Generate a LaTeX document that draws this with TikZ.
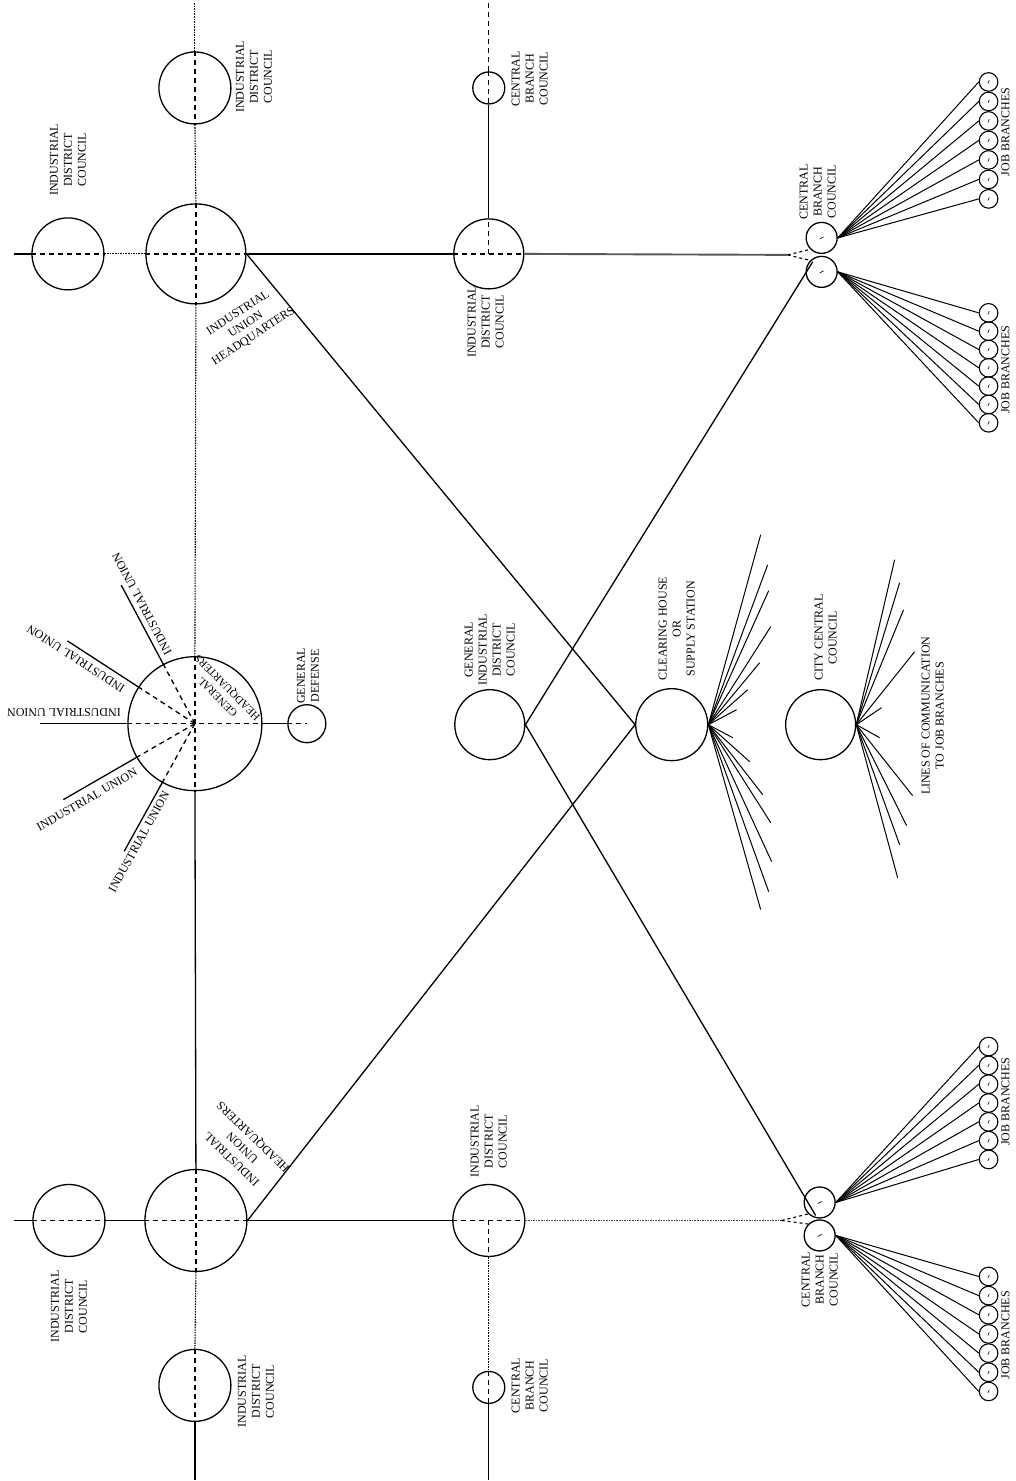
\documentclass[tikz,border=0pt]{standalone}
\usepackage{fontspec}
\setmainfont{Liberation Serif}
\usetikzlibrary{calc}
\begin{document}
\begin{tikzpicture}[x=1pt,y=-1pt,line width=1.3pt,
  circ/.style={circle,draw,inner sep=0pt,minimum size=#1pt},
  jb/.style={circle,draw,inner sep=0pt,minimum size=18.6pt,line width=1.1pt},
  dsh/.style={dash pattern=on 5pt off 4pt},
  fork/.style={dash pattern=on 3pt off 3pt,line width=1.1pt},
  dotl/.style={dash pattern=on 1.6pt off 1pt,line width=1.1pt},
  grayl/.style={line width=1.9pt,color=black!65},
  thin/.style={line width=1pt},
  lab/.style={font=\fontsize{12}{14}\selectfont,align=center,inner sep=0pt},
  tick/.style={line width=0.6pt}]
\path[fill=white] (0,0) rectangle (1016,1481);

% ---------------- circles ----------------
\node[circ=72]  (idcTa) at (195,88) {};
\node[circ=72]  (idcTl) at (68,254) {};
\node[circ=100] (iuhT)  at (196,254) {};
\node[circ=32]  (cbcT)  at (489,88) {};
\node[circ=70]  (idcTm) at (489,254) {};

\node[circ=134] (ghq)  at (195,724) {};
\node[circ=38]  (gd)   at (307,724) {};
\node[circ=70]  (gidc) at (490,725) {};
\node[circ=72]  (chs)  at (672,725) {};
\node[circ=70]  (ccc)  at (821,725) {};

\node[circ=72]  (idcBl) at (69,1221) {};
\node[circ=102] (iuhB)  at (196,1221) {};
\node[circ=72]  (idcBa) at (195,1386) {};
\node[circ=72]  (idcBm) at (489,1221) {};
\node[circ=32]  (cbcB)  at (489,1388) {};

\node[circ=31] (cbcTa) at (822,238) {};
\node[circ=31] (cbcTb) at (822,272) {};
\node[circ=31] (cbcBa) at (820,1203) {};
\node[circ=31] (cbcBb) at (820,1236) {};

% free ends
\coordinate (topL)  at (195,3);
\coordinate (botL)  at (195,1481);
\coordinate (topM)  at (489,3);
\coordinate (botM)  at (489,1481);
\coordinate (leftT) at (14,254);
\coordinate (leftB) at (14,1221);
\coordinate (forkT) at (788,255);
\coordinate (forkB) at (782,1221);
\coordinate (endT)  at (813,262);
\coordinate (endB)  at (816,1216);

% ---------------- left column ----------------
\draw[dotl] (topL) -- (idcTa.north);
\draw[dsh] (idcTa.north) -- (idcTa.south);
\draw[dotl] (idcTa.south) -- (iuhT.north);
\draw[dsh] (iuhT.north) -- (iuhT.south);
\draw[dsh] (iuhT.west) -- (iuhT.east);
\draw[dotl] (iuhT.south) -- (ghq.north);
\draw (ghq.south) -- (iuhB.north);
\draw[dsh] (iuhB.north) -- (iuhB.south);
\draw[dsh] (iuhB.west) -- (iuhB.east);
\draw[dotl] (iuhB.south) -- (idcBa.north);
\draw[dsh] (idcBa.north) -- (idcBa.south);
\draw (idcBa.south) -- (botL);

\draw (leftT) -- (idcTl.west);
\draw[dsh] (idcTl.west) -- (idcTl.east);
\draw[dotl] (idcTl.east) -- (iuhT.west);
\draw (leftB) -- (idcBl.west);
\draw[dsh] (idcBl.west) -- (idcBl.east);
\draw (idcBl.east) -- (iuhB.west);

% general headquarters
\draw[dsh] (ghq.north) -- (ghq.south);
\draw[dsh] (ghq.west) -- (ghq.east);
\foreach \a in {147,118,210,241}
  \draw[dsh] (ghq.center) -- ($(ghq.center)+(-\a:67)$);
\foreach \a/\l in {180/88,147/85,118/90,210/85,241/79}
  \draw ($(ghq.center)+(-\a:67)$) -- ($(ghq.center)+(-\a:67+\l)$);
\draw (ghq.east) -- (gd.west);
\draw[dsh] (gd.west) -- (gd.center);

% ---------------- middle column ----------------
\draw[dsh] (topM) -- (cbcT.north);
\draw[dsh] (cbcT.north) -- (cbcT.south);
\draw (cbcT.south) -- (idcTm.north);
\draw[dsh] (idcTm.west) -- (idcTm.east);
\draw[dsh] (idcTm.center) -- (idcTm.north);
\draw (iuhT.east) -- (idcTm.west);
\draw[grayl] (idcTm.east) -- (forkT);

\draw (iuhB.east) -- (idcBm.west);
\draw[dsh] (idcBm.west) -- (idcBm.east);
\draw[dsh] (idcBm.center) -- (idcBm.south);
\draw[dotl] (idcBm.south) -- (cbcB.north);
\draw[dsh] (cbcB.north) -- (cbcB.south);
\draw (cbcB.south) -- (botM);
\draw[dotl,color=black!75] (idcBm.east) -- (forkB);

% forks
\draw[fork] (forkT) -- (cbcTa.south west);
\draw[fork] (forkT) -- (cbcTb.north west);
\draw[fork] (forkB) -- (cbcBa.south west);
\draw[fork] (forkB) -- (cbcBb.north west);

% diagonals
\draw (iuhT.east) -- (chs.west);
\draw (iuhB.east) -- (chs.west);
\draw (gidc.east) -- (endT);
\draw (gidc.east) -- (endB);

% rays
\foreach \x/\y in {761/535,768/565,769/591,771/627,760/663,748/690,737/710,
                   733/738,750/762,763/795,771/823,772/862,769/892,761/910}
  \draw[thin] (chs.east) -- (\x,\y);
\foreach \x/\y in {895/560,900/583,904/610,915/652,882/708,
                   880/738,913/796,907/826,900/845,898/878}
  \draw[thin] (ccc.east) -- (\x,\y);

% ticks in pair circles
\foreach \n in {cbcTa,cbcTb,cbcBa,cbcBb}
  \draw[tick] ($(\n)+(-2,1)$) -- ($(\n)+(2,-1)$);

% job branches
\foreach \i in {0,...,6} {
  \pgfmathsetmacro\ya{82+19.5*\i}
  \node[jb] (ja\i) at (989,\ya) {};
  \draw[thin] (cbcTa.east) -- (ja\i.west);
  \draw[tick] ($(ja\i)+(-0.7,1.6)$) -- ($(ja\i)+(0.7,-1.6)$);
  \pgfmathsetmacro\yb{313+18.33*\i}
  \node[jb] (jb\i) at (989,\yb) {};
  \draw[thin] (cbcTb.east) -- (jb\i.west);
  \draw[tick] ($(jb\i)+(-0.7,1.6)$) -- ($(jb\i)+(0.7,-1.6)$);
  \pgfmathsetmacro\yc{1047+18.83*\i}
  \node[jb] (jc\i) at (989,\yc) {};
  \draw[thin] (cbcBa.east) -- (jc\i.west);
  \draw[tick] ($(jc\i)+(-0.7,1.6)$) -- ($(jc\i)+(0.7,-1.6)$);
  \pgfmathsetmacro\yd{1277+19.17*\i}
  \node[jb] (jd\i) at (989,\yd) {};
  \draw[thin] (cbcBb.east) -- (jd\i.west);
  \draw[tick] ($(jd\i)+(-0.7,1.6)$) -- ($(jd\i)+(0.7,-1.6)$);
}

% ---------------- labels ----------------
\node[lab,rotate=90] (l1) at (254,77) {INDUSTRIAL\\DISTRICT\\COUNCIL};
\node[lab,rotate=90] (l2) at (68,160) {INDUSTRIAL\\DISTRICT\\COUNCIL};
\node[lab,rotate=33] (l3) at (246,325) {INDUSTRIAL\\UNION\\HEADQUARTERS};
\node[lab,rotate=90] (l4) at (530,79) {CENTRAL\\BRANCH\\COUNCIL};
\node[lab,rotate=90] (l5) at (486,322) {INDUSTRIAL\\DISTRICT\\COUNCIL};
\node[lab,rotate=90] (l6) at (308,676) {GENERAL\\DEFENSE};
\node[lab,rotate=135,font=\fontsize{11}{13.5}\selectfont] (l7) at (223,692) {GENERAL\\HEADQUARTERS};
\node[lab,rotate=180] (u1) at (64,713) {INDUSTRIAL UNION};
\node[lab,rotate=147] (u2) at (76,659) {INDUSTRIAL UNION};
\node[lab,rotate=118] (u3) at (142,604) {INDUSTRIAL UNION};
\node[lab,rotate=30]  (u4) at (87,800) {INDUSTRIAL UNION};
\node[lab,rotate=61]  (u5) at (139,842) {INDUSTRIAL UNION};
\node[lab,rotate=90] (l8) at (490,650) {GENERAL\\INDUSTRIAL\\DISTRICT\\COUNCIL};
\node[lab,rotate=90] (l9) at (677,629) {CLEARING HOUSE\\OR\\SUPPLY STATION};
\node[lab,rotate=90] (l10) at (826,638) {CITY CENTRAL\\COUNCIL};
\node[lab,rotate=90] (l11) at (933,716) {LINES OF COMMUNICATION\\TO JOB BRANCHES};
\node[lab,rotate=90] (l12) at (818,192) {CENTRAL\\BRANCH\\COUNCIL};
\node[lab,rotate=90] (l13) at (820,1280) {CENTRAL\\BRANCH\\COUNCIL};
\node[lab,rotate=90] (jl1) at (1006,132) {JOB BRANCHES};
\node[lab,rotate=90] (jl2) at (1006,370) {JOB BRANCHES};
\node[lab,rotate=90] (jl3) at (1006,1102) {JOB BRANCHES};
\node[lab,rotate=90] (jl4) at (1006,1336) {JOB BRANCHES};
\node[lab,rotate=90] (l14) at (69,1307) {INDUSTRIAL\\DISTRICT\\COUNCIL};
\node[lab,rotate=90] (l15) at (256,1392) {INDUSTRIAL\\DISTRICT\\COUNCIL};
\node[lab,rotate=136,font=\fontsize{12}{15.5}\selectfont] (l16) at (243,1148) {INDUSTRIAL\\UNION\\HEADQUARTERS};
\node[lab,rotate=90] (l17) at (489,1142) {INDUSTRIAL\\DISTRICT\\COUNCIL};
\node[lab,rotate=90] (l18) at (530,1386) {CENTRAL\\BRANCH\\COUNCIL};
\end{tikzpicture}
\end{document}
